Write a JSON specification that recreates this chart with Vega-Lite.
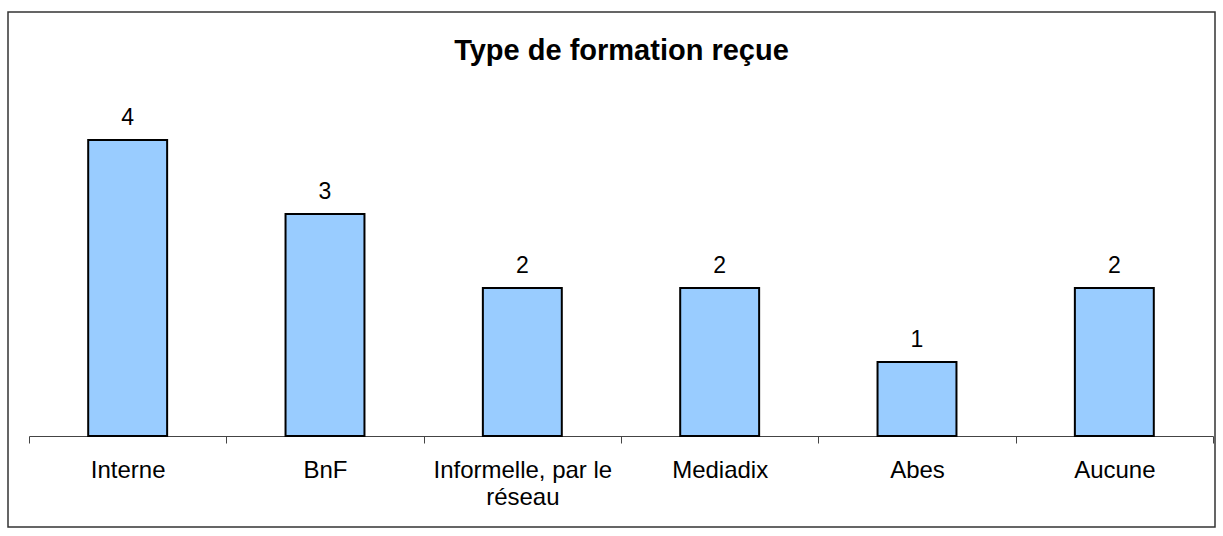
{
  "$schema": "https://vega.github.io/schema/vega-lite/v6.json",
  "autosize": {"type": "none"},
  "padding": {"left": 8, "top": 12, "right": 8, "bottom": 9},
  "width": 1207,
  "height": 515,
  "background": "white",
  "config": {
    "font": "Liberation Sans",
    "view": {"stroke": "#333333", "strokeWidth": 1.5}
  },
  "title": {
    "text": "Type de formation reçue",
    "fontSize": 29,
    "fontWeight": "bold",
    "color": "#000000",
    "font": "Liberation Sans",
    "anchor": "middle",
    "dx": 10,
    "offset": -54
  },
  "data": {
    "values": [
      {"type": "Interne", "n": 4},
      {"type": "BnF", "n": 3},
      {"type": "Informelle, par le réseau", "n": 2},
      {"type": "Mediadix", "n": 2},
      {"type": "Abes", "n": 1},
      {"type": "Aucune", "n": 2}
    ]
  },
  "encoding": {
    "x": {
      "field": "type",
      "type": "nominal",
      "sort": null,
      "scale": {"range": [21, 1205], "paddingInner": 0, "paddingOuter": 0},
      "axis": {
        "title": null,
        "orient": "bottom",
        "offset": -91,
        "labelAngle": 0,
        "labelFontSize": 24,
        "labelColor": "#000000",
        "labelPadding": 15,
        "labelLineHeight": 27,
        "labelExpr": "datum.value == 'Informelle, par le réseau' ? ['Informelle, par le', 'réseau'] : datum.value",
        "tickBand": "extent",
        "tickSize": 7,
        "tickColor": "#444444",
        "domainColor": "#444444",
        "domainWidth": 1,
        "ticks": true,
        "grid": false
      }
    },
    "y": {
      "field": "n",
      "type": "quantitative",
      "scale": {"domain": [0, 5], "range": [424, 54], "nice": false, "zero": true},
      "axis": null
    }
  },
  "layer": [
    {
      "mark": {"type": "bar", "fill": "#99CCFF", "stroke": "#000000", "strokeWidth": 2, "width": {"band": 0.4}}
    },
    {
      "mark": {"type": "text", "fontSize": 23, "color": "#000000", "baseline": "bottom", "dy": -10},
      "encoding": {"text": {"field": "n", "type": "quantitative"}}
    }
  ]
}
